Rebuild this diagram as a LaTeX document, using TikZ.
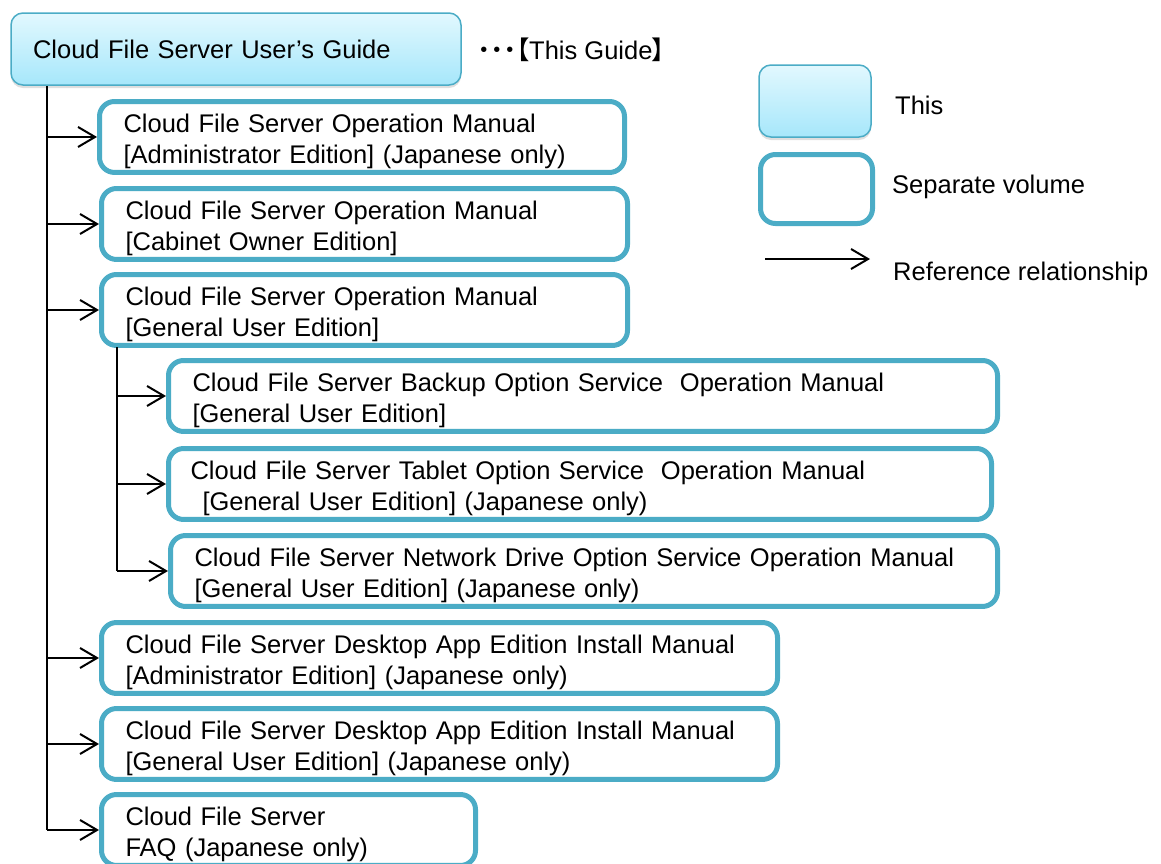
\documentclass[tikz,border=0pt]{standalone}
\usepackage{fontspec}
\setmainfont{Liberation Sans}
\newfontfamily\cjk[RawFeature=+palt]{Noto Sans CJK JP}
\usepackage{xcolor}
\usetikzlibrary{arrows.meta,shadows}

\definecolor{volblue}{HTML}{4BACC6}
\definecolor{thistop}{HTML}{E2F8FE}
\definecolor{thisbot}{HTML}{A6E7FB}

\begin{document}
\begin{tikzpicture}[x=1pt,y=-1pt,
                    font=\fontsize{25.5}{31}\selectfont,
                    thisbox/.style={draw=volblue,line width=1.5pt,
                    rounded corners=12pt,outer sep=0pt,
                    top color=thistop,bottom color=thisbot,
                    drop shadow={shadow xshift=0pt,shadow yshift=-3pt,opacity=0.25},
                    anchor=north west,minimum height=72pt},
                    volbox/.style={draw=volblue,line width=5pt,fill=white,
                    rounded corners=15pt,outer sep=0pt,
                    anchor=north west,minimum height=70pt,text height=28pt,
                    inner xsep=24pt,text width=#1-48pt,align=left},
                    lbl/.style={anchor=west,inner sep=0pt},
                    refarrow/.style={line width=2pt,-{Straight Barb[length=17pt,width=20pt]}},
                    trunk/.style={line width=2pt}]
    \useasboundingbox (0,0) rectangle (1161,863);

    % this guide
    \node[thisbox,minimum width=450pt,inner xsep=22pt,text width=406pt,align=left](guide) at (11,13)
        {Cloud File Server User’s Guide};
    \node[lbl](guidenote) at (478,50)
        {{\cjk ・・・【}This Guide{\cjk 】}};

    % legend
    \node[thisbox,minimum width=112pt,inner sep=0pt](legthis) at (759,65) {};
    \node[volbox=112pt,minimum height=69pt,text height=0pt](legsep) at (760.5,154.5) {};
    \node[lbl](legthist) at (895,105) {This};
    \node[lbl](legsept) at (892,187) {Separate volume};
    \node[lbl](legreft) at (893,274) {Reference relationship};
    \coordinate (refa) at (765,259);
    \coordinate (refb) at (870,259);
    \draw[refarrow] (refa) -- (refb);

    % separate volumes
    \node[volbox=525pt](b1) at (99.5,101.5)
        {Cloud File Server Operation Manual\\{}[Administrator Edition] (Japanese only)};
    \node[volbox=526pt](b2) at (101.5,188.5)
        {Cloud File Server Operation Manual\\{}[Cabinet Owner Edition]};
    \node[volbox=526pt](b3) at (101.5,274.5)
        {Cloud File Server Operation Manual\\{}[General User Edition]};
    \node[volbox=829pt](b4) at (168.5,360.5)
        {Cloud File Server Backup Option Service~~Operation Manual\\{}[General User Edition]};
    \node[volbox=827pt,inner xsep=22pt](b5) at (168.5,448.5)
        {Cloud File Server Tablet Option Service~~Operation Manual\\\hspace*{12pt}[General User Edition] (Japanese only)};
    \node[volbox=827pt](b6) at (170.5,535.5)
        {Cloud File Server Network Drive Option Service Operation Manual\\{}[General User Edition] (Japanese only)};
    \node[volbox=676pt](b7) at (101.5,622.5)
        {Cloud File Server Desktop App Edition Install Manual\\{}[Administrator Edition] (Japanese only)};
    \node[volbox=676pt](b8) at (101.5,708.5)
        {Cloud File Server Desktop App Edition Install Manual\\{}[General User Edition] (Japanese only)};
    \node[volbox=374pt](b9) at (101.5,794.5)
        {Cloud File Server\\FAQ (Japanese only)};

    % reference lines
    \coordinate (mtop) at (47,86);
    \coordinate (stop) at (117,347);
    \draw[trunk] (mtop) -- (mtop |- b9.west);
    \foreach \b in {b1,b2,b3,b7,b8,b9}
        \draw[refarrow,shorten >=2.5pt] (mtop |- \b.west) -- (\b.west);
    \draw[trunk] (stop) -- (stop |- b6.west);
    \foreach \b in {b4,b5,b6}
        \draw[refarrow,shorten >=2.5pt] (stop |- \b.west) -- (\b.west);

\end{tikzpicture}
\end{document}
